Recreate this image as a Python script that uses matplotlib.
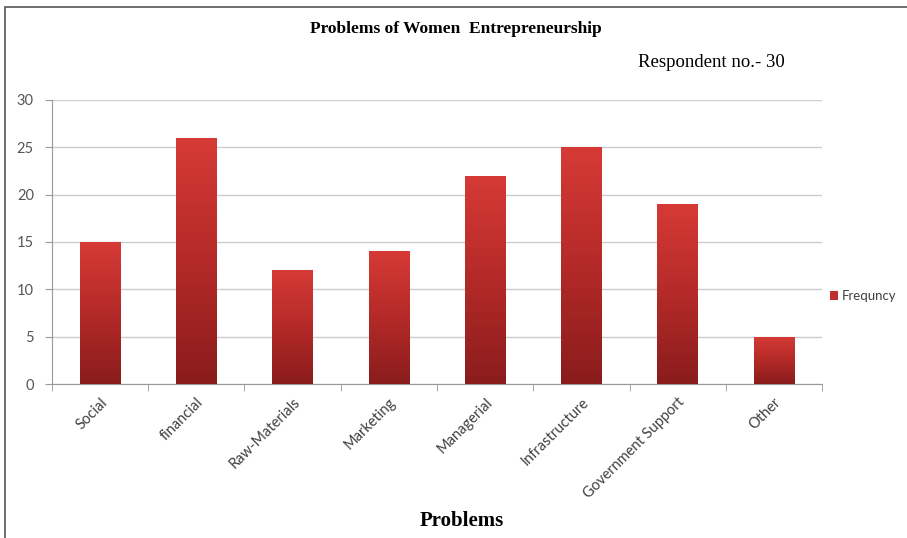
import numpy as np
import matplotlib
matplotlib.use("Agg")
import matplotlib.pyplot as plt
from matplotlib.colors import LinearSegmentedColormap
from matplotlib.patches import Rectangle

problems = ["Social", "financial", "Raw-Materials", "Marketing", "Managerial",
            "Infrastructure", "Government Support", "Other"]
frequency = [15, 26, 12, 14, 22, 25, 19, 5]
yticks = [0, 5, 10, 15, 20, 25, 30]

fig = plt.figure(figsize=(9.07, 5.38), dpi=100)
ax = fig.add_axes([0.0573, 0.2862, 0.849, 0.528])

x = np.arange(len(problems))
bars = ax.bar(x, frequency, width=0.42, color="#c0302e", label="Frequncy", zorder=2)

# vertical gradient on every bar, dark at bottom
cmap = LinearSegmentedColormap.from_list("redgrad", ["#8a1c1c", "#b42a28", "#d63a36"])
grad = np.linspace(0, 1, 256).reshape(-1, 1)
for b in bars:
    x0, y0 = b.get_x(), b.get_y()
    w, h = b.get_width(), b.get_height()
    im = ax.imshow(grad, cmap=cmap, origin="lower", aspect="auto",
                   extent=[x0, x0 + w, y0, y0 + h], zorder=3)
    im.set_clip_path(b)

ax.set_xlim(-0.5, len(problems) - 0.5)
ax.set_ylim(0, 30)
ax.set_yticks(yticks)
ax.set_yticklabels([str(t) for t in yticks], color="#555555", fontsize=10.5, family="Lato")
ax.set_xticks(x)
ax.set_xticklabels(problems, rotation=45, ha="right", rotation_mode="anchor",
                   color="#404040", fontsize=10.5, family="Lato")
ax.set_xticks(np.arange(len(problems) + 1) - 0.5, minor=True)
ax.tick_params(axis="x", which="major", length=0, pad=8)
ax.tick_params(axis="x", which="minor", length=5, color="#999999")
ax.tick_params(axis="y", length=5, color="#999999", pad=8)

ax.grid(axis="y", color="#cccccc", linewidth=1, zorder=0)
ax.set_axisbelow(True)
for s in ["top", "right"]:
    ax.spines[s].set_visible(False)
for s in ["left", "bottom"]:
    ax.spines[s].set_color("#999999")

fig.text(0.503, 0.946, "Problems of Women  Entrepreneurship", ha="center", va="center",
         family="Liberation Serif", fontweight="bold", fontsize=12.5)
fig.text(0.784, 0.883, "Respondent no.- 30", ha="center", va="center",
         family="Liberation Serif", fontsize=13.5)
fig.text(0.509, 0.031, "Problems", ha="center", va="center",
         family="Liberation Serif", fontweight="bold", fontsize=15)

ax.legend(loc="center left", bbox_to_anchor=(0.995, 0.31), frameon=False,
          handlelength=0.6, handleheight=0.6, handletextpad=0.3,
          prop={"size": 9.5, "family": "Lato"}, labelcolor="#404040")

# outer frame, left and top only visible
fig.patches.append(Rectangle((0.006, -0.1), 1.2, 1.087, transform=fig.transFigure,
                             fill=False, edgecolor="#555555", linewidth=1.2))

fig.savefig("out.png", dpi=100)
